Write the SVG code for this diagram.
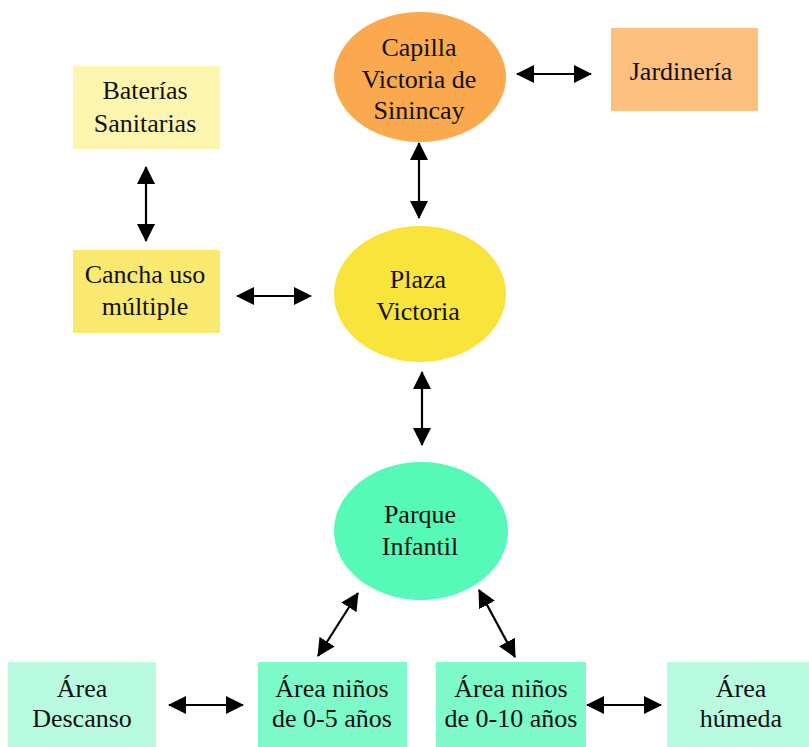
<svg xmlns="http://www.w3.org/2000/svg" width="809" height="747" viewBox="0 0 809 747">
<style>
text{font-family:"Liberation Serif","Times New Roman",serif;font-size:26px;fill:#111;text-anchor:middle}
.c{stroke:#000;stroke-width:2.2;fill:none;marker-start:url(#ah);marker-end:url(#ah)}
</style>
<defs>
<marker id="ah" markerUnits="userSpaceOnUse" viewBox="0 0 18 18" markerWidth="18" markerHeight="18" refX="17" refY="9" orient="auto-start-reverse">
<path d="M0,0 L18,9 L0,18 z" fill="#000"/>
</marker>
</defs>
<rect width="809" height="747" fill="#fff"/>
<g id="capilla"><ellipse cx="420" cy="77" rx="86" ry="65" fill="#FBA94F"/><text x="419" y="56">Capilla</text><text x="419" y="88">Victoria de</text><text x="419" y="119">Sinincay</text></g>
<g id="jardineria"><rect x="611" y="28" width="147" height="83" fill="#FDC07F"/><text x="681" y="80">Jardinería</text></g>
<g id="baterias"><rect x="73" y="66" width="147" height="83" fill="#FCF5AE"/><text x="145" y="99">Baterías</text><text x="145" y="132">Sanitarias</text></g>
<g id="cancha"><rect x="73" y="250" width="147" height="83" fill="#F9E96F"/><text x="145" y="283">Cancha uso</text><text x="145" y="315">múltiple</text></g>
<g id="plaza"><ellipse cx="420" cy="294" rx="86" ry="68" fill="#F8E43A"/><text x="418" y="288">Plaza</text><text x="418" y="320">Victoria</text></g>
<g id="parque"><ellipse cx="421" cy="531" rx="87" ry="69" fill="#57F9B8"/><text x="420" y="523">Parque</text><text x="420" y="555">Infantil</text></g>
<g id="descanso"><rect x="8" y="662" width="148" height="90" fill="#B8FBE0"/><text x="82" y="697">Área</text><text x="82" y="727">Descanso</text></g>
<g id="ninos05"><rect x="258" y="662" width="149" height="90" fill="#7DF9CA"/><text x="332" y="697">Área niños</text><text x="332" y="727">de 0-5 años</text></g>
<g id="ninos010"><rect x="436" y="662" width="150" height="90" fill="#7DF9CA"/><text x="511" y="697">Área niños</text><text x="511" y="727">de 0-10 años</text></g>
<g id="humeda"><rect x="667" y="662" width="150" height="90" fill="#B8FBE0"/><text x="741" y="697">Área</text><text x="741" y="727">húmeda</text></g>
<g id="connectors">
<line class="c" x1="517" y1="74" x2="591" y2="74"/>
<line class="c" x1="419" y1="143" x2="419" y2="218"/>
<line class="c" x1="146" y1="167" x2="146" y2="241"/>
<line class="c" x1="237" y1="296" x2="311" y2="296"/>
<line class="c" x1="422" y1="372" x2="422" y2="445"/>
<line class="c" x1="318" y1="656" x2="358" y2="593"/>
<line class="c" x1="479" y1="590" x2="515" y2="657"/>
<line class="c" x1="169" y1="705" x2="243" y2="705"/>
<line class="c" x1="587" y1="705" x2="661" y2="705"/>
</g>
</svg>
